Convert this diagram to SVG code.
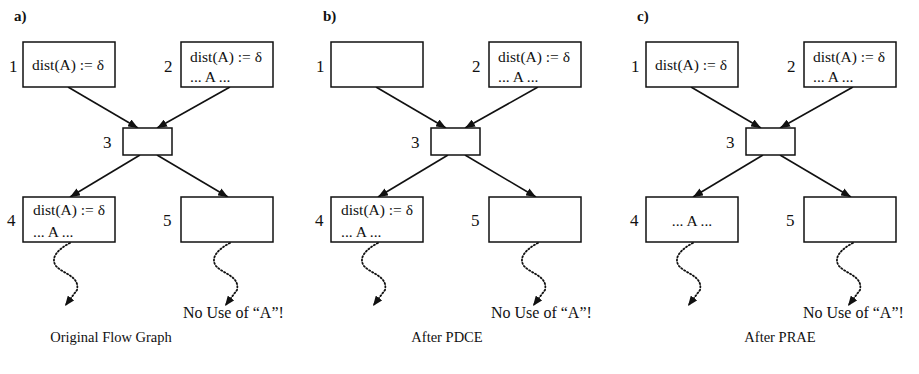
<svg xmlns="http://www.w3.org/2000/svg" width="919" height="374" viewBox="0 0 919 374">
<style>
text{font-family:"Liberation Serif","Times New Roman",serif;fill:#111}
.box{fill:#fff;stroke:#111;stroke-width:1.5}
.t{font-size:15.5px}
.n{font-size:17px}
.lab{font-size:15px;font-weight:bold}
.nu{font-size:16px}
.cap{font-size:14.5px}
.edge{stroke:#111;stroke-width:1.6;fill:none;marker-end:url(#ah)}
.dot{stroke:#111;stroke-width:1.8;fill:none;stroke-dasharray:1.2 2.2;stroke-linecap:round;marker-end:url(#ah2)}
</style>
<defs>
<marker id="ah" markerUnits="userSpaceOnUse" markerWidth="10" markerHeight="8" refX="10" refY="4" orient="auto" viewBox="0 0 10 8"><path d="M0,0 L10,4 L0,8 z" fill="#111"/></marker>
<marker id="ah2" markerUnits="userSpaceOnUse" markerWidth="10" markerHeight="8" refX="10" refY="4" orient="auto" viewBox="0 0 10 8"><path d="M0,0 L10,4 L0,8 z" fill="#111"/></marker>
</defs>

<!-- Panel a -->
<g id="panel-a">
<text class="lab" x="14" y="21">a)</text>
<g id="a-conn">
<line class="edge" x1="68" y1="87" x2="138" y2="128"/>
<line class="edge" x1="230" y1="87" x2="157" y2="128"/>
<line class="edge" x1="140" y1="155" x2="70" y2="197"/>
<line class="edge" x1="157" y1="155" x2="228" y2="197"/>
<path class="dot" d="M70,243 C58,249 50,258 56,266 C63,274 80,276 77,290 L65,306"/>
<path class="dot" d="M230,243 C218,249 210,258 216,266 C223,274 240,276 237,290 L225,306"/>
</g>
<g id="a-n1"><rect class="box" x="23" y="42" width="92" height="45"/><text class="n" x="9" y="72">1</text><text class="t" x="32" y="70">dist(A) := δ</text></g>
<g id="a-n2"><rect class="box" x="181" y="42" width="92" height="45"/><text class="n" x="164" y="72">2</text><text class="t" x="190" y="62">dist(A) := δ</text><text class="t" x="190" y="82">... A ...</text></g>
<g id="a-n3"><rect class="box" x="123" y="128" width="49" height="27"/><text class="n" x="103" y="148">3</text></g>
<g id="a-n4"><rect class="box" x="23" y="197" width="92" height="45"/><text class="n" x="7" y="226">4</text><text class="t" x="33" y="215">dist(A) := δ</text><text class="t" x="33" y="237">... A ...</text></g>
<g id="a-n5"><rect class="box" x="181" y="197" width="92" height="45"/><text class="n" x="163" y="226">5</text></g>
<text class="nu" x="183" y="318">No Use of “A”!</text>
<text class="cap" x="111" y="342" text-anchor="middle">Original Flow Graph</text>
</g>

<!-- Panel b -->
<g id="panel-b">
<text class="lab" x="323" y="21">b)</text>
<g id="b-conn">
<line class="edge" x1="376" y1="87" x2="446" y2="128"/>
<line class="edge" x1="538" y1="87" x2="465" y2="128"/>
<line class="edge" x1="448" y1="155" x2="378" y2="197"/>
<line class="edge" x1="465" y1="155" x2="536" y2="197"/>
<path class="dot" d="M378,243 C366,249 358,258 364,266 C371,274 388,276 385,290 L373,306"/>
<path class="dot" d="M538,243 C526,249 518,258 524,266 C531,274 548,276 545,290 L533,306"/>
</g>
<g id="b-n1"><rect class="box" x="331" y="42" width="92" height="45"/><text class="n" x="316" y="72">1</text></g>
<g id="b-n2"><rect class="box" x="489" y="42" width="92" height="45"/><text class="n" x="472" y="72">2</text><text class="t" x="498" y="62">dist(A) := δ</text><text class="t" x="498" y="82">... A ...</text></g>
<g id="b-n3"><rect class="box" x="431" y="128" width="49" height="27"/><text class="n" x="411" y="148">3</text></g>
<g id="b-n4"><rect class="box" x="331" y="197" width="92" height="45"/><text class="n" x="315" y="226">4</text><text class="t" x="341" y="215">dist(A) := δ</text><text class="t" x="341" y="237">... A ...</text></g>
<g id="b-n5"><rect class="box" x="489" y="197" width="92" height="45"/><text class="n" x="471" y="226">5</text></g>
<text class="nu" x="491" y="318">No Use of “A”!</text>
<text class="cap" x="447" y="342" text-anchor="middle">After PDCE</text>
</g>

<!-- Panel c -->
<g id="panel-c">
<text class="lab" x="637" y="21">c)</text>
<g id="c-conn">
<line class="edge" x1="691" y1="87" x2="761" y2="128"/>
<line class="edge" x1="853" y1="87" x2="780" y2="128"/>
<line class="edge" x1="763" y1="155" x2="693" y2="197"/>
<line class="edge" x1="780" y1="155" x2="851" y2="197"/>
<path class="dot" d="M693,243 C681,249 673,258 679,266 C686,274 703,276 700,290 L688,306"/>
<path class="dot" d="M853,243 C841,249 833,258 839,266 C846,274 863,276 860,290 L848,306"/>
</g>
<g id="c-n1"><rect class="box" x="646" y="42" width="92" height="45"/><text class="n" x="631" y="72">1</text><text class="t" x="655" y="70">dist(A) := δ</text></g>
<g id="c-n2"><rect class="box" x="804" y="42" width="92" height="45"/><text class="n" x="787" y="72">2</text><text class="t" x="813" y="62">dist(A) := δ</text><text class="t" x="813" y="82">... A ...</text></g>
<g id="c-n3"><rect class="box" x="746" y="128" width="49" height="27"/><text class="n" x="726" y="148">3</text></g>
<g id="c-n4"><rect class="box" x="646" y="197" width="92" height="45"/><text class="n" x="630" y="226">4</text><text class="t" x="692" y="226" text-anchor="middle">... A ...</text></g>
<g id="c-n5"><rect class="box" x="804" y="197" width="92" height="45"/><text class="n" x="786" y="226">5</text></g>
<text class="nu" x="803" y="318">No Use of “A”!</text>
<text class="cap" x="780" y="342" text-anchor="middle">After PRAE</text>
</g>
</svg>
